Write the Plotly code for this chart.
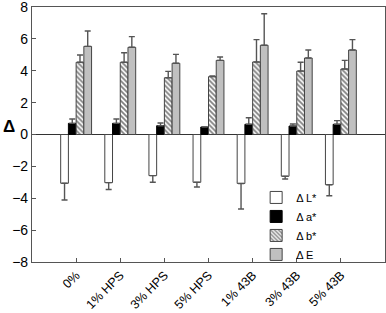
import plotly.graph_objects as go

categories = ["0%", "1% HPS", "3% HPS", "5% HPS", "1% 43B", "3% 43B", "5% 43B"]
dL = [-3.06, -3.02, -2.58, -3.00, -3.07, -2.62, -3.15]
dL_err = [1.05, 0.43, 0.42, 0.29, 1.60, 0.17, 0.69]
da = [0.70, 0.70, 0.55, 0.47, 0.64, 0.53, 0.64]
da_err = [0.27, 0.27, 0.17, 0.0, 0.41, 0.13, 0.23]
db = [4.53, 4.53, 3.56, 3.63, 4.55, 3.98, 4.11]
db_err = [0.46, 0.60, 0.40, 0.04, 1.40, 0.55, 0.54]
dE = [5.53, 5.47, 4.47, 4.65, 5.60, 4.80, 5.30]
dE_err = [0.96, 0.67, 0.56, 0.21, 1.98, 0.50, 0.65]
y_ticks = [-8, -6, -4, -2, 0, 2, 4, 6, 8]

xs = list(range(len(categories)))
line_col = "#444444"
err_style = dict(color="#555555", thickness=1.4, width=3)

fig = go.Figure()
fig.add_trace(go.Bar(
    x=xs, y=dL, name="Δ L*",
    marker=dict(color="white", line=dict(color=line_col, width=1)),
    error_y=dict(type="data", symmetric=False, array=[0]*len(dL), arrayminus=dL_err, **err_style),
))
fig.add_trace(go.Bar(
    x=xs, y=da, name="Δ a*",
    marker=dict(color="black", line=dict(color="black", width=1)),
    error_y=dict(type="data", symmetric=False, array=da_err, arrayminus=[0]*len(da), **err_style),
))
fig.add_trace(go.Bar(
    x=xs, y=db, name="Δ b*",
    marker=dict(color="white", line=dict(color=line_col, width=1),
                pattern=dict(shape="\\", fgcolor="black", bgcolor="white", size=3.5, solidity=0.5)),
    error_y=dict(type="data", symmetric=False, array=db_err, arrayminus=[0]*len(db), **err_style),
))
fig.add_trace(go.Bar(
    x=xs, y=dE, name="Δ E",
    marker=dict(color="#c0c0c0", line=dict(color=line_col, width=1)),
    error_y=dict(type="data", symmetric=False, array=dE_err, arrayminus=[0]*len(dE), **err_style),
))

fig.update_layout(
    width=386, height=313,
    margin=dict(l=32, r=1, t=7, b=51, autoexpand=False),
    paper_bgcolor="white", plot_bgcolor="white",
    barmode="group", bargap=0.3, bargroupgap=0,
    font=dict(family="Liberation Sans, Arial, sans-serif", color="black", size=12),
    showlegend=True,
    legend=dict(x=0.635, y=0.31, xanchor="left", yanchor="top",
                bgcolor="rgba(0,0,0,0)", font=dict(size=11),
                tracegroupgap=0, itemwidth=30),
)
fig.update_xaxes(
    automargin=False,
    range=[-1, len(categories)], tickmode="array", tickvals=xs, ticktext=categories,
    tickangle=-45, ticks="inside", ticklen=4, tickcolor="#555555",
    showline=True, linecolor="#555555", linewidth=1.2, mirror=True,
    showgrid=False, zeroline=False, tickfont=dict(size=12.5),
    ticklabeloverflow="allow",
)
fig.update_yaxes(
    automargin=False,
    range=[-8, 8], tickmode="array", tickvals=y_ticks,
    ticks="inside", ticklen=4, tickcolor="#555555",
    showline=True, linecolor="#555555", linewidth=1.2, mirror=True,
    showgrid=False, zeroline=True, zerolinecolor="#333333", zerolinewidth=1,
    tickfont=dict(size=14), ticklabeloverflow="allow",
)
fig.add_annotation(text="<b>Δ</b>", xref="paper", yref="paper", x=-0.066, y=0.53,
                   showarrow=False, font=dict(size=17), xanchor="center", yanchor="middle")

fig.write_html("out.html", config={"displayModeBar": False},
               post_script="document.body.style.margin='0';document.body.style.overflow='hidden';")
